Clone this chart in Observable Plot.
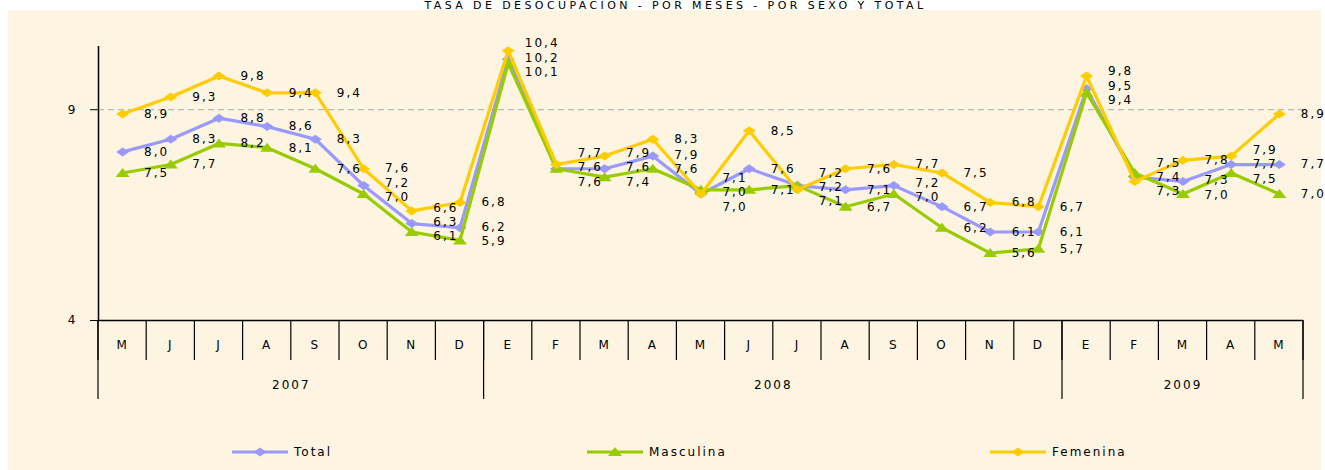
<!DOCTYPE html>
<html><head><meta charset="utf-8">
<script src="https://cdn.jsdelivr.net/npm/d3@7"></script>
<script src="https://cdn.jsdelivr.net/npm/@observablehq/plot@0.6"></script>
<style>
html,body{margin:0;padding:0;background:#fff;width:1325px;height:470px;overflow:hidden;}
#wrap{position:relative;width:1325px;height:470px;font-family:"DejaVu Sans",sans-serif;color:#000;}
#panel{position:absolute;left:8px;top:10px;width:1313px;height:460px;background:#FDF5E2;}
#title{position:absolute;left:26px;top:0px;width:1299px;text-align:center;font-size:11px;line-height:11px;letter-spacing:3.4px;}
#chart{position:absolute;left:0;top:0;}
#legend{position:absolute;left:0;top:440px;width:1325px;height:24px;font-size:12px;letter-spacing:2px;}
.item{position:absolute;top:0;display:flex;align-items:center;height:24px;}
.item svg{margin-right:6px;}
</style></head>
<body><div id="wrap"><div id="panel"></div><div id="title">TASA DE DESOCUPACION - POR MESES - POR SEXO Y TOTAL</div><div id="chart"></div><div id="legend"></div></div>
<script>
// ---- data ----
const months = ["M","J","J","A","S","O","N","D","E","F","M","A","M","J","J","A","S","O","N","D","E","F","M","A","M"];
const years = ["2007","2008","2009"];
const monthsPerYear = [8, 12, 5];
const total     = [8.0,8.3,8.8,8.6,8.3,7.2,6.3,6.2,10.2,7.6,7.6,7.9,7.0,7.6,7.2,7.1,7.2,6.7,6.1,6.1,9.5,7.4,7.3,7.7,7.7];
const masculina = [7.5,7.7,8.2,8.1,7.6,7.0,6.1,5.9,10.1,7.6,7.4,7.6,7.1,7.1,7.2,6.7,7.0,6.2,5.6,5.7,9.4,7.5,7.0,7.5,7.0];
const femenina  = [8.9,9.3,9.8,9.4,9.4,7.6,6.6,6.8,10.4,7.7,7.9,8.3,7.0,8.5,7.1,7.6,7.7,7.5,6.8,6.7,9.8,7.3,7.8,7.9,8.9];
const seriesNames = ["Total","Masculina","Femenina"];
const yTicks = [4, 9];
const gridValue = 9;

// ---- styles ----
const colors = {Total:"#9999FF", Masculina:"#99CC00", Femenina:"#FFCC00"};
const wideDiamond = {draw(ctx){ctx.moveTo(-6.5,0);ctx.lineTo(0,-4.5);ctx.lineTo(6.5,0);ctx.lineTo(0,4.5);ctx.closePath();}};
const wideTriangle = {draw(ctx){ctx.moveTo(0,-5);ctx.lineTo(7,4);ctx.lineTo(-7,4);ctx.closePath();}};
const symbols = {Total:wideDiamond, Masculina:wideTriangle, Femenina:wideDiamond};
const valuesBy = {Total:total, Masculina:masculina, Femenina:femenina};

const rows = seriesNames.flatMap(s => valuesBy[s].map((v,i)=>({serie:s, i, value:v})));
const fmt = v => d3.format(".1f")(v).replace(".", ",");

// label layout: keep the three labels of a month apart (in value units)
const minGap = 0.34;
const labelRows = rows.map(d => ({...d, at: d.value}));
d3.group(labelRows, d => d.i).forEach(group => {
  group.sort((a,b) => b.value - a.value);
  for (let it = 0; it < 60; it++) {
    for (let k = 1; k < group.length; k++) {
      const diff = group[k-1].at - group[k].at;
      if (diff < minGap) { const m = (minGap - diff) / 2; group[k-1].at += m; group[k].at -= m; }
    }
  }
});

// year rows
let start = 0;
const yearRows = years.map((y,k)=>{const r={label:y, start, end:start+monthsPerYear[k]}; start += monthsPerYear[k]; return r;});

const seriesMarks = seriesNames.flatMap(s => {
  const data = rows.filter(d=>d.serie===s);
  return [
    Plot.line(data, {x:"i", y:"value", stroke: colors[s], strokeWidth: 3.2}),
    Plot.dot(data, {x:"i", y:"value", symbol: symbols[s], fill: colors[s], stroke: "none", r: 5})
  ];
});

const chart = Plot.plot({
  width: 1325, height: 440,
  marginLeft: 98, marginRight: 22, marginTop: 46, marginBottom: 120,
  style: {background:"transparent", fontFamily:"DejaVu Sans, sans-serif", fontSize:"12px", color:"#000", letterSpacing:"2px", overflow:"visible"},
  x: {domain:[-0.5, months.length - 0.5], axis: null},
  y: {domain:[4, 10.5], ticks: yTicks, tickSize: 8, tickPadding: 13, label: null, tickFormat: d=>String(d)},
  marks: [
    Plot.ruleY([gridValue], {stroke:"#a8a8a8", strokeDasharray:"6,4", strokeWidth:1}),
    ...seriesMarks,
    Plot.text(labelRows, {x:"i", y:"at", text: d=>fmt(d.value), dx: 34, fill:"#000", fontSize: 12}),
    Plot.ruleX([-0.5], {stroke:"#000", strokeWidth:1.5}),
    Plot.ruleY([4], {stroke:"#000", strokeWidth:1.5}),
    Plot.text(months, {x:(d,i)=>i, text:d=>d, frameAnchor:"bottom", dy: 28, fill:"#000", fontSize: 12}),
    Plot.text(yearRows, {x:d=>(d.start + d.end - 1)/2, text:"label", frameAnchor:"bottom", dy: 68, fill:"#000", fontSize: 12})
  ]
});
document.getElementById("chart").appendChild(chart);

// category axis separators through Plot's scales
const xs = chart.scale("x"), ys = chart.scale("y");
const lin = (sc) => v => sc.range[0] + (v - sc.domain[0]) / (sc.domain[1]-sc.domain[0]) * (sc.range[1]-sc.range[0]);
const X = xs.apply ? (v=>xs.apply(v)) : lin(xs);
const Y = ys.apply ? (v=>ys.apply(v)) : lin(ys);
const base = Y(4);
const monthBounds = d3.range(months.length + 1).map(k => k - 0.5);
const yearBounds = [-0.5, ...yearRows.map(r => r.end - 0.5)];
const svg = d3.select(chart);
const g = svg.append("g").attr("stroke","#000").attr("stroke-width",1.2);
g.selectAll("line.m").data(monthBounds).join("line").attr("class","m")
  .attr("x1",X).attr("x2",X).attr("y1",base).attr("y2",base+40);
g.selectAll("line.y").data(yearBounds).join("line").attr("class","y")
  .attr("x1",X).attr("x2",X).attr("y1",base).attr("y2",base+79);

// legend
const legendX = {Total:232, Masculina:587, Femenina:990};
const legend = d3.select("#legend");
seriesNames.forEach(s => {
  const item = legend.append("div").attr("class","item").style("left", legendX[s]+"px");
  const sw = item.append("svg").attr("width",56).attr("height",12);
  sw.append("line").attr("x1",0).attr("x2",56).attr("y1",6).attr("y2",6).attr("stroke",colors[s]).attr("stroke-width",3);
  sw.append("path").attr("transform","translate(28,6)").attr("d", d3.symbol().type(symbols[s])()).attr("fill",colors[s]);
  item.append("span").text(s);
});
</script></body></html>
